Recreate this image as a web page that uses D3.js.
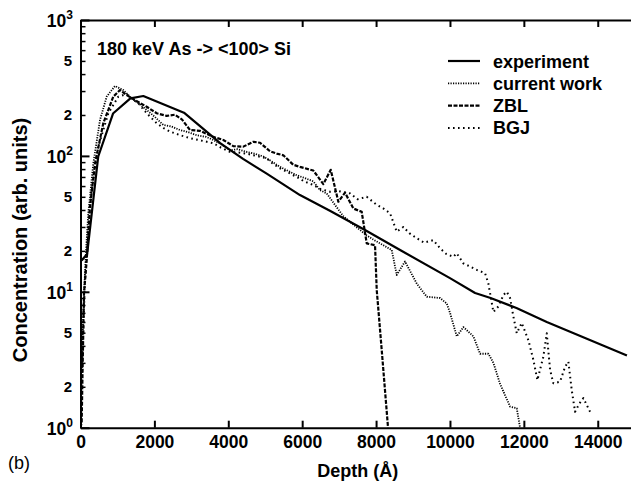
<!DOCTYPE html>
<html>
<head>
<meta charset="utf-8">
<script src="https://cdn.jsdelivr.net/npm/d3@7"></script>
<style>
  body { margin: 0; background: #fff; }
  svg { display: block; font-family: "Liberation Sans", Arial, sans-serif; }
</style>
</head>
<body>
<div id="chart"></div>
<script>
// Depth (Angstrom) vs concentration (arb. units)

const experiment = [
  [30, 17], [180, 19], [480, 99], [880, 205], [1350, 265], [1700, 276],
  [2800, 208], [3300, 160], [3780, 124], [4400, 95], [5040, 74], [5940, 51.5],
  [6750, 39.5], [7700, 28.5], [8650, 20.3], [10000, 12.6], [10680, 9.8],
  [11100, 9.0], [11800, 7.6], [12620, 6.0], [14790, 3.4]
];

const currentWork = [
  [0, 1], [30, 2.5], [76, 7], [140, 18], [211, 38], [347, 88], [528, 184],
  [709, 273], [934, 327], [1159, 305], [1386, 265], [1600, 240], [1791, 218],
  [2000, 195], [2241, 169], [2450, 165], [2693, 155], [2900, 150], [3145, 142],
  [3400, 138], [3595, 131], [3800, 122], [4047, 110], [4250, 112], [4499, 107],
  [4700, 104], [4949, 99], [5150, 92], [5400, 83], [5600, 78], [5852, 72],
  [6050, 69], [6302, 65], [6483, 56], [6664, 53], [6850, 45], [7115, 36],
  [7400, 31], [7747, 26], [7950, 24], [8198, 22], [8424, 20.3], [8559, 13.3],
  [8784, 16.7], [9101, 11.5], [9372, 9.2], [9732, 9.0], [9913, 8.2], [10002, 7],
  [10184, 4.7], [10364, 5.5], [10634, 4.7], [10815, 3.5], [11040, 3.5],
  [11176, 3.0], [11356, 2.1], [11627, 1.43], [11808, 1.39], [11897, 1.0]
];

const zbl = [
  [0, 1], [32, 1.1], [60, 3], [95, 9.8], [168, 17.1], [257, 42], [393, 88],
  [617, 174], [888, 273], [1069, 305], [1250, 280], [1500, 255], [1791, 230],
  [2063, 206], [2333, 197], [2558, 201], [2750, 185], [2964, 155], [3235, 153],
  [3595, 138], [3866, 131], [4136, 118], [4407, 117], [4678, 127], [4859, 125],
  [5130, 108], [5311, 104], [5490, 101], [5761, 86], [5942, 83], [6302, 78],
  [6573, 62], [6773, 79], [6979, 46], [7160, 53.6], [7385, 41], [7611, 38.8],
  [7747, 22.7], [7972, 22], [8018, 10.3], [8154, 3.7], [8324, 1]
];

const bgj = [
  [0, 1], [50, 3.5], [122, 12.2], [200, 28], [303, 56], [482, 117], [753, 206],
  [1024, 273], [1250, 285], [1400, 262], [1565, 244], [1800, 205], [2063, 174],
  [2250, 160], [2423, 151], [2700, 142], [2964, 135], [3250, 130], [3595, 124],
  [3800, 115], [4047, 107], [4250, 106], [4499, 104], [4750, 100], [5040, 96],
  [5200, 88], [5400, 81], [5600, 76], [5852, 70], [6050, 65], [6302, 61],
  [6500, 57], [6754, 54.5], [7000, 55], [7295, 53], [7500, 48], [7747, 50],
  [8000, 44], [8200, 41], [8378, 37.8], [8559, 27.7], [8739, 30], [8900, 27],
  [9101, 24.8], [9300, 23], [9552, 24], [9732, 20.9], [9900, 19], [10092, 18.1],
  [10182, 19.2], [10363, 16.2], [10550, 15.3], [10725, 14.5], [10950, 13.7],
  [11040, 11.5], [11176, 7.1], [11310, 7.8], [11450, 9.5], [11538, 10],
  [11627, 9], [11716, 6.6], [11808, 4.95], [11943, 5.9], [12123, 4.4],
  [12258, 3.15], [12366, 2.24], [12528, 3.33], [12620, 4.95], [12710, 2.66],
  [12799, 2.12], [12980, 2.18], [13116, 2.81], [13205, 3.06], [13296, 1.89],
  [13386, 1.31], [13500, 1.5], [13611, 1.65], [13792, 1.31]
];

const xTicks = [0, 2000, 4000, 6000, 8000, 10000, 12000, 14000];
const yDecades = [1, 10, 100, 1000];
const yLabelled = [2, 5, 20, 50, 200, 500];

const legendItems = ['experiment', 'current work', 'ZBL', 'BGJ'];
const titleText = '180 keV As -> <100> Si';

const W = 631, H = 489;
const mLeft = 80.5, mRight = 631, mTop = 20, mBottom = 427.7;

const svg = d3.select('#chart').append('svg')
  .attr('width', W)
  .attr('height', H);

const x = d3.scaleLinear().domain([0, 14900]).range([mLeft, mRight]);
const y = d3.scaleLog().domain([1, 1000]).range([mBottom, mTop]);

// minor ticks for the log axis: 2..9 per decade
const yMinor = [];
for (let d = 1; d < 1000; d *= 10) {
  for (let k = 2; k <= 9; k++) yMinor.push(k * d);
}

svg.append('defs').append('clipPath').attr('id', 'plotclip')
  .append('rect')
  .attr('x', mLeft).attr('y', mTop)
  .attr('width', mRight - mLeft).attr('height', mBottom - mTop);

// axes
const xb = svg.append('g')
  .attr('transform', `translate(0,${mBottom})`)
  .call(d3.axisBottom(x).tickValues(xTicks).tickSize(-7).tickPadding(8)
    .tickFormat(d3.format('d')).tickSizeOuter(0));
const xt = svg.append('g')
  .attr('transform', `translate(0,${mTop})`)
  .call(d3.axisTop(x).tickValues(xTicks).tickSize(-7).tickFormat('').tickSizeOuter(0));
const yl = svg.append('g')
  .attr('transform', `translate(${mLeft},0)`)
  .call(d3.axisLeft(y).tickValues(yDecades).tickSize(-9).tickFormat('').tickSizeOuter(0));
const ylm = svg.append('g')
  .attr('transform', `translate(${mLeft},0)`)
  .call(d3.axisLeft(y).tickValues(yMinor).tickSize(-5).tickFormat('').tickSizeOuter(0));

[xb, xt, yl, ylm].forEach(g => {
  g.selectAll('path.domain').attr('stroke', '#000').attr('stroke-width', 2);
  g.selectAll('.tick line').attr('stroke', '#000').attr('stroke-width', 2);
});
ylm.selectAll('.tick line').attr('stroke-width', 1.5);

xb.selectAll('.tick text')
  .attr('fill', '#000')
  .style('font-size', '17.5px')
  .style('font-weight', 'bold');

// y labels: decades as 10^n, plus 2 and 5
yDecades.forEach(v => {
  const t = svg.append('text')
    .attr('x', 73)
    .attr('y', y(v) + 7)
    .attr('text-anchor', 'end')
    .style('font-size', '17.5px')
    .style('font-weight', 'bold');
  t.append('tspan').text('10');
  t.append('tspan')
    .attr('dy', -8)
    .style('font-size', '12px')
    .text(Math.round(Math.log10(v)));
});
yLabelled.forEach(v => {
  svg.append('text')
    .attr('x', 72)
    .attr('y', y(v) + 5.5)
    .attr('text-anchor', 'end')
    .style('font-size', '15px')
    .style('font-weight', 'bold')
    .text(String(v).charAt(0));
});

// axis titles
svg.append('text')
  .attr('x', (mLeft + mRight) / 2 + 2)
  .attr('y', 477)
  .attr('text-anchor', 'middle')
  .style('font-size', '18px')
  .style('font-weight', 'bold')
  .text('Depth (Å)');

svg.append('text')
  .attr('transform', 'translate(27,240) rotate(-90)')
  .attr('text-anchor', 'middle')
  .style('font-size', '20px')
  .style('font-weight', 'bold')
  .text('Concentration (arb. units)');

svg.append('text')
  .attr('x', 8)
  .attr('y', 469)
  .style('font-size', '18px')
  .text('(b)');

svg.append('text')
  .attr('x', 97)
  .attr('y', 55)
  .style('font-size', '18px')
  .style('font-weight', 'bold')
  .text(titleText);

// curves
const line = d3.line().x(d => x(d[0])).y(d => y(d[1]));
const styles = [
  { data: experiment, width: 2.2, dash: null },
  { data: currentWork, width: 1.8, dash: '1.2,1.3' },
  { data: zbl, width: 2.2, dash: '4,1.5' },
  { data: bgj, width: 2, dash: '1.6,3.4' }
];

const plot = svg.append('g').attr('clip-path', 'url(#plotclip)');
styles.forEach(s => {
  plot.append('path')
    .attr('d', line(s.data))
    .attr('fill', 'none')
    .attr('stroke', '#000')
    .attr('stroke-width', s.width)
    .attr('stroke-dasharray', s.dash)
    .attr('stroke-linejoin', 'round');
});

// legend
const lg = svg.append('g');
legendItems.forEach((name, i) => {
  const ly = 61 + i * 22.3;
  lg.append('line')
    .attr('x1', 448).attr('x2', 480)
    .attr('y1', ly).attr('y2', ly)
    .attr('stroke', '#000')
    .attr('stroke-width', styles[i].width)
    .attr('stroke-dasharray', styles[i].dash);
  lg.append('text')
    .attr('x', 493)
    .attr('y', ly + 6.5)
    .style('font-size', '18px')
    .style('font-weight', 'bold')
    .text(name);
});
</script>
</body>
</html>
